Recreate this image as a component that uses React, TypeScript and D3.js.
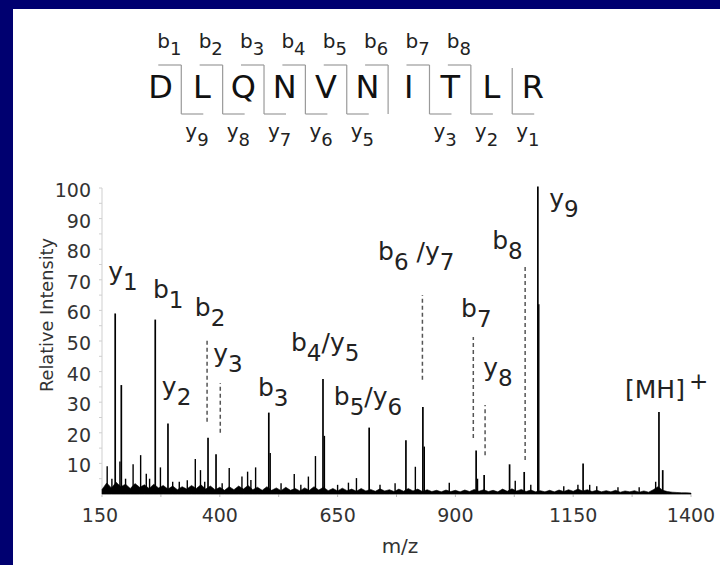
import React from 'react';
import * as d3 from 'd3';

// ---------- data ----------
const residues = ['D', 'L', 'Q', 'N', 'V', 'N', 'I', 'T', 'L', 'R'];
const bIons = [1, 2, 3, 4, 5, 6, 7, 8];
const yIons = [9, 8, 7, 6, 5, 3, 2, 1]; // y4 not observed

const xTickValues = [150, 400, 650, 900, 1150, 1400];
const xMinorTickValues = [150, 275, 400, 525, 650, 775, 900, 1025, 1150, 1275, 1400];
const yTickValues = [10, 20, 30, 40, 50, 60, 70, 80, 90, 100];
const yMinorTickValues = [5, 10, 15, 20, 25, 30, 35, 40, 45, 50, 55, 60, 65, 70, 75, 80, 85, 90, 95, 100];

// major fragment peaks (m/z, relative intensity)
const majorMz = [178, 191, 263, 290, 375, 392, 504, 619, 717, 795, 831, 944, 961, 1015, 1046, 1075, 1171, 1332, 1340];
const majorInt = [59, 35.6, 57, 23, 18.4, 13, 26.6, 37.6, 21.7, 17.6, 28.4, 14.2, 6.2, 9.7, 7.2, 100.5, 10, 26.8, 7.8];

// small peaks
const minorMz = [161, 171, 188, 200, 216, 232, 244, 251, 274, 300, 314, 331, 348, 359, 368, 405, 420, 447, 459, 466, 476, 507, 530, 558, 572, 588, 603, 622, 650, 673, 690, 740, 772, 815, 834, 887, 947, 1027, 1060, 1077, 1130, 1160, 1185, 1200, 1245, 1290, 1325];
const minorInt = [9.1, 5, 10.6, 5, 9.7, 12.7, 6.6, 5, 8.7, 4, 4, 4.5, 11.4, 7.8, 4, 3.5, 8.5, 5.7, 7.3, 4.6, 8.7, 13.4, 3.5, 6.5, 3, 5.7, 12.4, 19, 3, 3.7, 5.2, 3, 3.5, 8.9, 15.5, 3.7, 5, 4.3, 3, 62, 2.5, 3, 3, 2.5, 2.2, 2.2, 4];

// baseline noise, every 10 m/z from 150 to 1400
const noiseMz = d3.range(150, 1401, 10);
const noiseInt = [
  1.5, 3.6, 2.0, 3.8, 2.4, 3.2, 1.8, 3.4, 2.2, 3.0, 1.8, 3.2, 2.0, 2.8, 1.6,
  2.6, 1.4, 2.4, 1.6, 2.8, 1.8, 3.0, 1.6, 2.6, 1.4, 2.2, 1.2, 2.4, 1.4, 2.6, 1.6, 2.8, 1.4, 2.2, 1.2, 2.4, 1.2, 2.0, 1.1, 2.2, 1.2, 1.8, 1.0, 2.0, 1.2,
  2.4, 1.3, 2.2, 1.1, 1.8, 1.0, 1.9, 1.1, 1.6, 0.9, 1.8, 1.0, 1.5, 0.9, 1.7, 1.0, 1.4, 0.8, 1.6, 0.9, 1.8, 1.0, 1.6, 0.8, 1.4, 0.8, 1.2, 0.7, 1.3, 0.8,
  1.2, 0.7, 1.3, 0.8, 1.5, 0.9, 1.4, 0.8, 1.2, 0.7, 1.6, 0.9, 1.7, 1.0, 1.5, 0.8, 1.3, 0.7, 1.1, 0.7, 1.2, 0.7, 1.3, 0.8, 1.4, 0.9, 1.6, 1.0, 1.4, 0.8,
  1.2, 0.7, 1.1, 0.7, 1.2, 0.6, 1.0, 0.7, 1.1, 0.6, 1.0, 0.6, 1.4, 2.4, 1.2, 0.8, 0.6, 0.5, 0.4, 0.4, 0.3,
];

// dashed assignment markers (m/z, from intensity, to intensity)
const dashMz = [373, 401, 830, 938, 963, 1048];
const dashLow = [23.6, 20, 37.3, 18.3, 12.7, 11.1];
const dashHigh = [51, 36.3, 65, 51.3, 29.1, 74.8];

// peak annotations: [letter, subscript] segments, anchored in data space (m/z, intensity)
const labelSegments: [string, string][][] = [
  [['y', '1']],
  [['b', '1']],
  [['b', '2']],
  [['y', '3']],
  [['y', '2']],
  [['b', '3']],
  [['b', '4'], ['/y', '5']],
  [['b', '5'], ['/y', '6']],
  [['b', '6'], [' /y', '7']],
  [['b', '7']],
  [['y', '8']],
  [['b', '8']],
  [['y', '9']],
];
const labelMz = [163, 258, 347, 386, 277, 481, 551, 642, 736, 912, 959, 978, 1099];
const labelInt = [69.9, 64.1, 58.2, 43.1, 32.4, 32.0, 46.7, 29.1, 76.5, 57.8, 38.6, 80.1, 93.8];
const precursorMz = 1260;
const precursorInt = 31.4;

const FONT = "'DejaVu Sans', Verdana, sans-serif";

export default function App() {
  const W = 720;
  const H = 565;
  const x = d3.scaleLinear().domain([150, 1400]).range([102, 691]);
  const y = d3.scaleLinear().domain([0, 100]).range([494, 188]);

  const noiseArea = d3
    .area<number>()
    .x((_, i) => x(noiseMz[i]))
    .y0(y(0))
    .y1((d) => y(d));

  const seqX = d3.scalePoint<number>().domain(d3.range(residues.length)).range([160.6, 532.9]);
  const cut = (k: number) => ((seqX(k - 1) as number) + (seqX(k) as number)) / 2; // cleavage after residue k
  const topY = 65;
  const botY = 114;
  const gray = '#9a9a9a';

  return (
    <svg
      width={W}
      height={H}
      style={{ position: 'absolute', left: 0, top: 0, display: 'block' }}
      fontFamily={FONT}
    >
      <rect x={0} y={0} width={W} height={H} fill="#ffffff" />
      <rect x={0} y={0} width={W} height={9} fill="#000070" />
      <rect x={0} y={0} width={13} height={H} fill="#000070" />

      {/* sequence */}
      {residues.map((r, i) => (
        <text key={'r' + i} x={seqX(i)} y={98} fontSize={32} textAnchor="middle" fill="#111">
          {r}
        </text>
      ))}
      {d3.range(1, residues.length).map((k) => {
        const cx = cut(k);
        const hasB = bIons.includes(k);
        const yIdx = residues.length - k;
        const hasY = yIons.includes(yIdx);
        return (
          <g key={'c' + k} stroke={gray} strokeWidth={1.2} fill="none">
            {hasB && <line x1={cx - 23} x2={cx} y1={topY} y2={topY} />}
            <line x1={cx} x2={cx} y1={hasB ? topY : topY + 3} y2={botY} />
            {hasY && <line x1={cx} x2={cx + 22} y1={botY} y2={botY} />}
          </g>
        );
      })}
      {bIons.map((k) => (
        <text key={'bt' + k} x={cut(k) - 24} y={48} fontSize={20} fill="#222">
          b
          <tspan dy={7} fontSize={18}>
            {k}
          </tspan>
        </text>
      ))}
      {yIons.map((n) => (
        <text key={'yt' + n} x={cut(residues.length - n) + 4} y={138} fontSize={20} fill="#222">
          y
          <tspan dy={8} fontSize={18}>
            {n}
          </tspan>
        </text>
      ))}

      {/* axes */}
      <line x1={x(150)} x2={x(150)} y1={y(0)} y2={y(100)} stroke="#cfcfcf" strokeWidth={1} />
      {yMinorTickValues.map((v) => (
        <line key={'ym' + v} x1={x(150) - 3} x2={x(150)} y1={y(v)} y2={y(v)} stroke="#cfcfcf" strokeWidth={1} />
      ))}
      <line x1={x(150)} x2={x(1400)} y1={y(0)} y2={y(0)} stroke="#bbbbbb" strokeWidth={1} />
      {xMinorTickValues.map((v) => (
        <line key={'xm' + v} x1={x(v)} x2={x(v)} y1={y(0)} y2={y(0) + 3} stroke="#bbbbbb" strokeWidth={1} />
      ))}
      {yTickValues.map((v) => (
        <text key={'yl' + v} x={91} y={y(v) + 9} fontSize={19} textAnchor="end" fill="#333">
          {v}
        </text>
      ))}
      {xTickValues.map((v) => (
        <text key={'xl' + v} x={x(v) - (v === 150 ? 2 : 0)} y={522} fontSize={19} textAnchor="middle" fill="#333">
          {v}
        </text>
      ))}
      <text x={400} y={553} fontSize={20} textAnchor="middle" fill="#333">
        m/z
      </text>
      <text transform="translate(53,315) rotate(-90)" fontSize={17.7} textAnchor="middle" fill="#333">
        Relative Intensity
      </text>

      {/* spectrum */}
      <path d={noiseArea(noiseInt) || ''} fill="#000" stroke="#000" strokeWidth={0.6} />
      {minorMz.map((m, i) => (
        <line key={'mn' + i} x1={x(m)} x2={x(m)} y1={y(0)} y2={y(minorInt[i])} stroke="#000" strokeWidth={1.4} />
      ))}
      {majorMz.map((m, i) => (
        <line key={'mj' + i} x1={x(m)} x2={x(m)} y1={y(0)} y2={y(majorInt[i])} stroke="#000" strokeWidth={1.7} />
      ))}
      {dashMz.map((m, i) => (
        <line
          key={'ds' + i}
          x1={x(m)}
          x2={x(m)}
          y1={y(dashLow[i])}
          y2={y(dashHigh[i])}
          stroke="#555"
          strokeWidth={1.5}
          strokeDasharray="4,3"
        />
      ))}

      {/* annotations */}
      {labelSegments.map((segs, i) => (
        <text key={'lb' + i} x={x(labelMz[i])} y={y(labelInt[i])} fontSize={25} fill="#222" style={{ whiteSpace: 'pre' }}>
          {segs.map(([main, sub], j) => (
            <React.Fragment key={j}>
              <tspan dy={j === 0 ? 0 : -10}>{main}</tspan>
              <tspan dy={10} fontSize={23}>
                {sub}
              </tspan>
            </React.Fragment>
          ))}
        </text>
      ))}
      <text x={x(precursorMz)} y={y(precursorInt)} fontSize={25} fill="#222">
        [MH]
        <tspan dx={4} dy={-9} fontSize={23}>
          +
        </tspan>
      </text>
    </svg>
  );
}
